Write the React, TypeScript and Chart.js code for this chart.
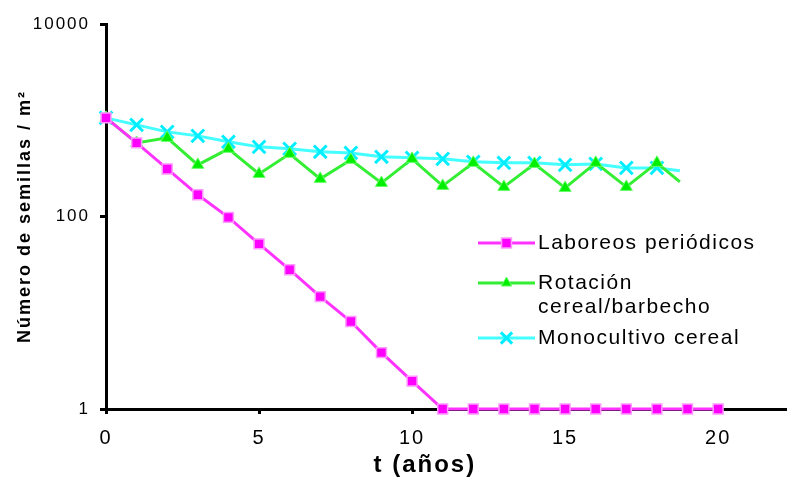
import React, { useEffect, useRef } from 'react';
import { Chart, registerables } from 'chart.js';
import { drawPoint } from 'chart.js/helpers';

Chart.register(...registerables);

// ---- data ----
const years = [0, 1, 2, 3, 4, 5, 6, 7, 8, 9, 10, 11, 12, 13, 14, 15, 16, 17, 18, 19, 20];
const laboreos = [1059, 582, 312, 168, 98, 52, 28, 14.7, 8.1, 3.85, 1.95, 1, 1, 1, 1, 1, 1, 1, 1, 1, 1];

const rotYears = [0, 1, 2, 3, 4, 5, 6, 7, 8, 9, 10, 11, 12, 13, 14, 15, 16, 17, 18, 18.75];
const rotacion = [1059, 582, 656, 344, 505, 277, 448, 246, 388, 223, 397, 208, 361, 203, 352, 198, 361, 203, 361, 229];
const monocultivo = [1059, 896, 757, 688, 597, 529, 505, 470, 458, 417, 407, 397, 370, 361, 361, 344, 352, 320, 320, 298];

const seriesLabels = [['Laboreos periódicos'], ['Rotación', 'cereal/barbecho'], ['Monocultivo cereal']];
const xTicks = [0, 5, 10, 15, 20];
const yTicks = [1, 100, 10000];
const xTitle = 't (años)';
const yTitle = 'Número de semillas / m²';

const spacingPlugin = {
  id: 'spacing',
  beforeUpdate(chart: any) {
    chart.ctx.letterSpacing = '2px';
  },
  beforeDraw(chart: any) {
    chart.ctx.letterSpacing = '2px';
  },
};

const legendPlugin = {
  id: 'customLegend',
  afterDraw(chart: any, _args: any, opts: any) {
    const ctx = chart.ctx;
    ctx.save();
    ctx.letterSpacing = opts.letterSpacing;
    ctx.font = opts.font;
    ctx.textBaseline = 'middle';
    ctx.textAlign = 'left';
    opts.items.forEach((item: any, i: number) => {
      const ds = chart.data.datasets[i];
      const y = item.y;
      ctx.strokeStyle = ds.borderColor;
      ctx.lineWidth = ds.borderWidth;
      ctx.beginPath();
      ctx.moveTo(opts.x, y);
      ctx.lineTo(opts.x + opts.lineLen, y);
      ctx.stroke();
      ctx.fillStyle = ds.pointBackgroundColor;
      ctx.strokeStyle = ds.pointBorderColor;
      ctx.lineWidth = ds.pointBorderWidth;
      drawPoint(ctx, { pointStyle: ds.pointStyle, rotation: 0, radius: item.r, borderWidth: ds.pointBorderWidth }, opts.x + opts.lineLen / 2, y);
      ctx.fillStyle = '#000';
      seriesLabels[i].forEach((line, j) => {
        ctx.fillText(line, opts.x + opts.lineLen + opts.gap, y + j * opts.lineHeight);
      });
    });
    ctx.restore();
  },
};

export default function App() {
  const ref = useRef<HTMLCanvasElement | null>(null);

  useEffect(() => {
    if (!ref.current) return;
    const noMarkerLast = (n: number, r: number) => Array.from({ length: n }, (_, i) => (i === n - 1 ? 0 : r));
    const chart = new Chart(ref.current, {
      type: 'line',
      data: {
        datasets: [
          {
            label: seriesLabels[0].join(' '),
            data: years.map((x, i) => ({ x, y: laboreos[i] })),
            borderColor: '#ff33ff',
            borderWidth: 3,
            pointStyle: 'rect',
            pointRadius: 7,
            pointBackgroundColor: '#ff00ff',
            pointBorderColor: '#ff99ff',
            pointBorderWidth: 1.5,
            clip: false,
          },
          {
            label: seriesLabels[1].join(' '),
            data: rotYears.map((x, i) => ({ x, y: rotacion[i] })),
            borderColor: '#33ee33',
            borderWidth: 3,
            pointStyle: 'triangle',
            pointRadius: noMarkerLast(rotYears.length, 7),
            pointBackgroundColor: '#00ee00',
            pointBorderColor: '#66ff66',
            pointBorderWidth: 1,
            clip: false,
          },
          {
            label: seriesLabels[2].join(' '),
            data: rotYears.map((x, i) => ({ x, y: monocultivo[i] })),
            borderColor: '#44ffff',
            borderWidth: 3,
            pointStyle: 'crossRot',
            pointRadius: noMarkerLast(rotYears.length, 9),
            pointBackgroundColor: '#00ffff',
            pointBorderColor: '#00eeff',
            pointBorderWidth: 3,
            clip: false,
          },
        ] as any,
      },
      options: {
        animation: false,
        responsive: false,
        devicePixelRatio: 1,
        layout: { autoPadding: false, padding: { left: 0, right: 0, top: 24, bottom: 0 } },
        plugins: {
          legend: { display: false },
          tooltip: { enabled: false },
          customLegend: {
            x: 478,
            lineLen: 57,
            gap: 3,
            lineHeight: 24,
            font: '21px "Liberation Sans", Arial, sans-serif',
            letterSpacing: '1.5px',
            items: [
              { y: 243, r: 7 },
              { y: 283, r: 6 },
              { y: 338, r: 8 },
            ],
          },
        } as any,
        scales: {
          x: {
            type: 'linear',
            min: 0,
            max: 22.25,
            afterBuildTicks: (s: any) => {
              s.ticks = xTicks.map((v) => ({ value: v }));
            },
            afterFit: (s: any) => {
              s.height = 73;
            },
            ticks: {
              color: '#000',
              padding: 12,
              font: { family: '"Liberation Sans", Arial, sans-serif', size: 20 },
              callback: (v: any) => String(v),
            },
            grid: { display: true, drawOnChartArea: false, drawTicks: true, tickLength: 5, color: '#000', lineWidth: 3 },
            border: { display: true, color: '#000', width: 3 },
            title: {
              display: true,
              text: xTitle + '     ',
              color: '#000',
              padding: { top: 0, bottom: 2 },
              font: { family: '"Liberation Sans", Arial, sans-serif', size: 24, weight: 'bold' },
            },
          },
          y: {
            type: 'logarithmic',
            min: 1,
            max: 10000,
            afterBuildTicks: (s: any) => {
              s.ticks = yTicks.map((v) => ({ value: v, major: true }));
            },
            afterFit: (s: any) => {
              s.width = 106;
            },
            ticks: {
              color: '#000',
              padding: 10,
              font: { family: '"Liberation Sans", Arial, sans-serif', size: 17 },
              callback: (v: any) => String(v),
            },
            grid: { display: true, drawOnChartArea: false, drawTicks: true, tickLength: 6, color: '#000', lineWidth: 3 },
            border: { display: true, color: '#000', width: 3 },
            title: {
              display: true,
              text: yTitle,
              color: '#000',
              padding: { top: 14, bottom: 0 },
              font: { family: '"Liberation Sans", Arial, sans-serif', size: 18, weight: 'bold' },
            },
          },
        } as any,
      },
      plugins: [spacingPlugin, legendPlugin],
    });
    return () => chart.destroy();
  }, []);

  return (
    <div style={{ position: 'absolute', left: 0, top: 0, width: 787, height: 482, background: '#fff' }}>
      <canvas ref={ref} width={787} height={482} />
    </div>
  );
}
